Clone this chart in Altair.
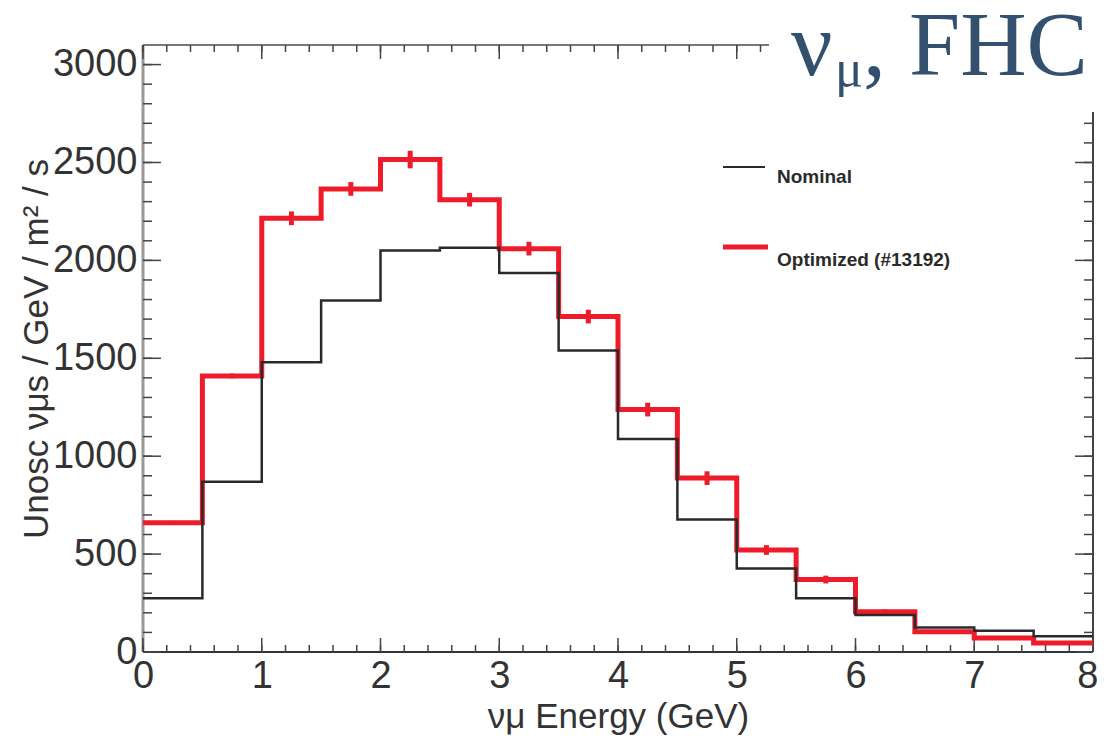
import altair as alt
import pandas as pd

# ---- data ----
bin_lo = [0.0, 0.5, 1.0, 1.5, 2.0, 2.5, 3.0, 3.5, 4.0, 4.5, 5.0, 5.5, 6.0, 6.5, 7.0, 7.5]
bin_hi_last = 8.0
nominal = [275, 870, 1480, 1795, 2050, 2065, 1935, 1540, 1088, 677, 427, 274, 189, 125, 108, 80]
optimized = [660, 1410, 2215, 2365, 2515, 2310, 2060, 1713, 1238, 888, 521, 370, 205, 103, 72, 46]
opt_err = [10, 12, 35, 35, 45, 35, 35, 35, 35, 35, 25, 20, 12, 10, 8, 6]

x_major = [0, 1, 2, 3, 4, 5, 6, 7, 8]
x_minor = [i * 0.2 for i in range(41)]
y_major = [0, 500, 1000, 1500, 2000, 2500, 3000]
y_minor = [i * 100 for i in range(31)]

legend_labels = ["Nominal", "Optimized (#13192)"]

W, H = 950, 607
RED = "#ee1c2a"
BLK = "#2a2a2a"
FONT = "Liberation Sans"

xs = alt.Scale(domain=[0, 8], nice=False, zero=False)
ys = alt.Scale(domain=[0, 3100], nice=False, zero=False)

XAX = alt.Axis(
    values=x_major, format="d", ticks=False, tickSize=0, domain=False, grid=False,
    labelFont=FONT, labelFontSize=38, labelColor="#333", labelPadding=5,
    labelAlign={"expr": "datum.value >= 8 ? 'right' : 'center'"},
    labelOffset={"expr": "datum.value >= 8 ? 5 : 0"},
    title="\u03bd\u03bc Energy (GeV)", titleFont=FONT, titleFontSize=35,
    titleFontWeight="normal", titleColor="#333", titlePadding=4,
    labelFlush=False)
YAX = alt.Axis(
    values=y_major, format="d", ticks=False, tickSize=0, domain=False, grid=False,
    labelFont=FONT, labelFontSize=38, labelColor="#333", labelPadding=6,
    title="Unosc \u03bd\u03bcs / GeV / m\u00b2 / s", titleFont=FONT, titleFontSize=35,
    titleFontWeight="normal", titleColor="#333", titlePadding=0,
    titleX=-107, titleY=H / 2, titleAngle=-90, titleAlign="center",
    titleBaseline="middle", labelFlush=False)


def step_df(vals):
    return pd.DataFrame({"E": bin_lo + [bin_hi_last], "N": vals + [vals[-1]]})


one = pd.DataFrame({"a": [0]})

nom_line = alt.Chart(step_df(nominal)).mark_line(
    interpolate="step-after", color=BLK, strokeWidth=2.5
).encode(
    x=alt.X("E:Q", scale=xs, axis=XAX),
    y=alt.Y("N:Q", scale=ys, axis=YAX),
)

opt_line = alt.Chart(step_df(optimized)).mark_line(
    interpolate="step-after", color=RED, strokeWidth=5
).encode(
    x=alt.X("E:Q", scale=xs, axis=XAX),
    y=alt.Y("N:Q", scale=ys, axis=YAX),
)

err_df = pd.DataFrame({
    "c": [b + 0.25 for b in bin_lo],
    "lo": [v - e for v, e in zip(optimized, opt_err)],
    "hi": [v + e for v, e in zip(optimized, opt_err)],
})
opt_err_rules = alt.Chart(err_df).mark_rule(color=RED, strokeWidth=5).encode(
    x=alt.X("c:Q", scale=xs, axis=XAX),
    y=alt.Y("lo:Q", scale=ys, axis=YAX),
    y2="hi:Q",
)


# inner ticks (ROOT style)
def xticks(vals, length, top):
    d = pd.DataFrame({"t": vals})
    if top:
        yy, yy2 = alt.value(0), alt.value(length)
    else:
        yy, yy2 = alt.value(H), alt.value(H - length)
    return alt.Chart(d).mark_rule(color="#444", strokeWidth=1.5).encode(
        x=alt.X("t:Q", scale=xs, axis=XAX), y=yy, y2=yy2)


def yticks(vals, length, right):
    d = pd.DataFrame({"t": vals})
    if right:
        xx, xx2 = alt.value(W), alt.value(W - length)
    else:
        xx, xx2 = alt.value(0), alt.value(length)
    return alt.Chart(d).mark_rule(color="#444", strokeWidth=1.5).encode(
        y=alt.Y("t:Q", scale=ys, axis=YAX), x=xx, x2=xx2)


tick_layers = [
    xticks(x_minor, 7, False), xticks(x_major, 14, False),
    xticks(x_minor, 7, True), xticks(x_major, 14, True),
    yticks(y_minor, 9, False), yticks(y_major, 18, False),
    yticks(y_minor, 9, True), yticks(y_major, 18, True),
]

# frame
frame = [
    alt.Chart(one).mark_rule(color="#999", strokeWidth=3).encode(
        x=alt.value(0), y=alt.value(0), y2=alt.value(H)),
    alt.Chart(one).mark_rule(color="#333", strokeWidth=2).encode(
        x=alt.value(0), x2=alt.value(W), y=alt.value(H)),
    alt.Chart(one).mark_rule(color="#777", strokeWidth=2).encode(
        x=alt.value(0), x2=alt.value(W), y=alt.value(0)),
    alt.Chart(one).mark_rule(color="#444", strokeWidth=2).encode(
        x=alt.value(W), y=alt.value(0), y2=alt.value(H)),
]

# legend
leg = [
    alt.Chart(one).mark_rule(color=BLK, strokeWidth=2).encode(
        x=alt.value(580), x2=alt.value(622), y=alt.value(122)),
    alt.Chart(one).mark_rule(color=RED, strokeWidth=5).encode(
        x=alt.value(580), x2=alt.value(625), y=alt.value(202)),
    alt.Chart(one).mark_text(font=FONT, fontSize=19, fontWeight="bold", color="#2a2a2a",
                             align="left", baseline="middle").encode(
        x=alt.value(634), y=alt.value(132), text=alt.value(legend_labels[0])),
    alt.Chart(one).mark_text(font=FONT, fontSize=19, fontWeight="bold", color="#2a2a2a",
                             align="left", baseline="middle").encode(
        x=alt.value(634), y=alt.value(215), text=alt.value(legend_labels[1])),
]

# title box (covers the top-right corner of the frame)
TCOL = "#34506f"
title = [
    alt.Chart(one).mark_rect(color="white").encode(
        x=alt.value(626), x2=alt.value(960), y=alt.value(-45), y2=alt.value(67)),
    alt.Chart(one).mark_text(font="Liberation Serif", fontSize=92, color=TCOL,
                             align="left", baseline="alphabetic").encode(
        x=alt.value(648), y=alt.value(30), text=alt.value("\u03bd")),
    alt.Chart(one).mark_text(font="Liberation Serif", fontSize=52, color=TCOL,
                             align="left", baseline="alphabetic").encode(
        x=alt.value(692), y=alt.value(41), text=alt.value("\u03bc")),
    alt.Chart(one).mark_text(font="Liberation Serif", fontSize=92, color=TCOL,
                             align="left", baseline="alphabetic").encode(
        x=alt.value(720), y=alt.value(30), text=alt.value(", FHC")),
]

chart = alt.layer(
    *frame, *tick_layers, opt_line, opt_err_rules, nom_line, *leg, *title
).properties(
    width=W, height=H,
    autosize=alt.AutoSizeParams(type="none"),
    padding={"left": 135, "top": 37, "right": 6, "bottom": 91},
).configure_view(stroke=None)

chart.save("out.html", embed_options={"renderer": "svg", "actions": False})
